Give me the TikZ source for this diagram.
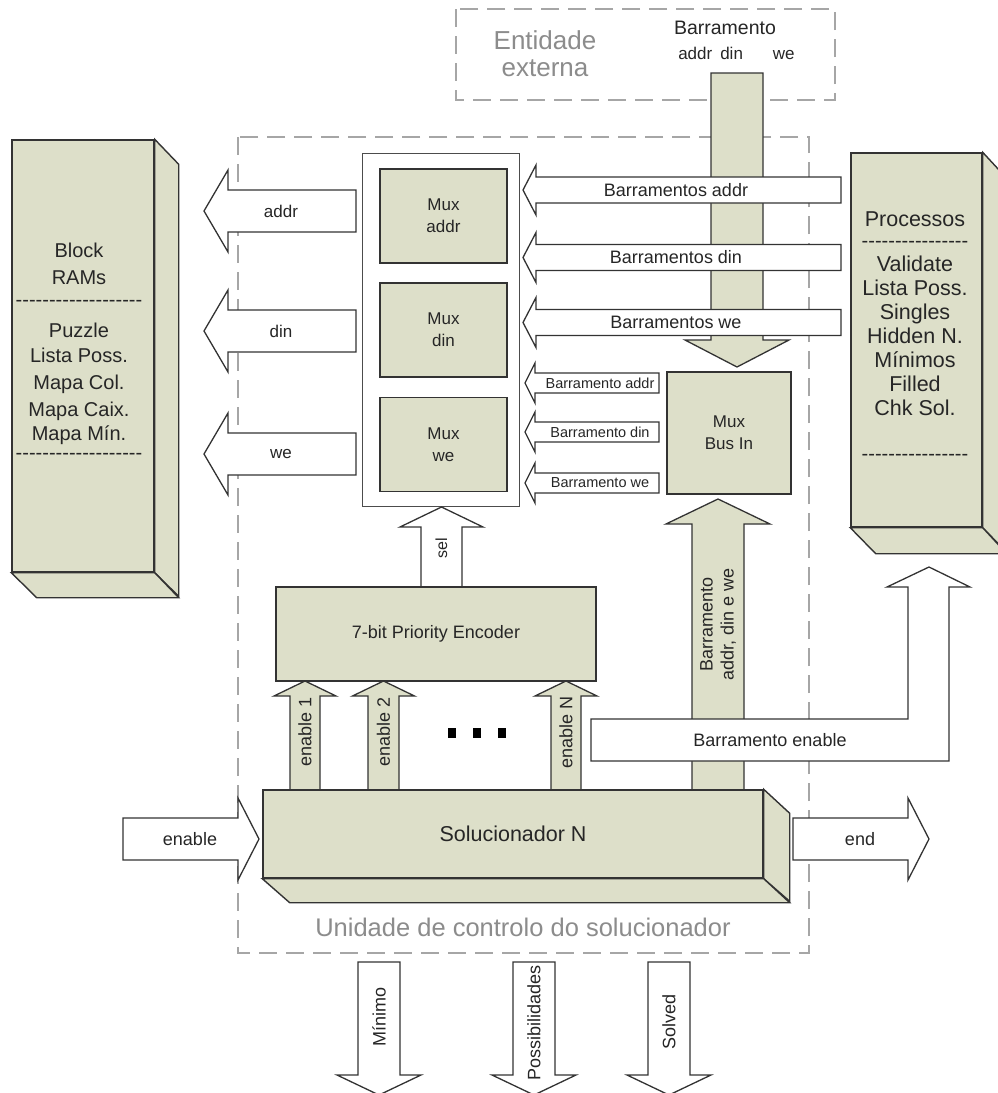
\documentclass[tikz,border=0pt]{standalone}
\usepackage{fontspec}
\setmainfont{Liberation Sans}

\definecolor{solfill}{RGB}{221,223,201}
\definecolor{txtgrey}{RGB}{140,140,140}

% horizontal block arrow: style, tail x, head base x, tip x, y, half shaft, half head
\newcommand{\harr}[7]{%
	\draw[#1] (#2,#5-#6) -- (#3,#5-#6) -- (#3,#5-#7) -- (#4,#5) -- (#3,#5+#7) -- (#3,#5+#6) -- (#2,#5+#6) -- cycle;}
% vertical block arrow: style, tail y, head base y, tip y, x, half shaft, half head
\newcommand{\varr}[7]{%
	\draw[#1] (#5-#6,#2) -- (#5-#6,#3) -- (#5-#7,#3) -- (#5,#4) -- (#5+#7,#3) -- (#5+#6,#3) -- (#5+#6,#2) -- cycle;}
% row of hyphens
\newcommand{\hyph}[1]{\foreach \k in {1,...,#1}{-}}

\begin{document}
\begin{tikzpicture}[x=1pt,y=-1pt,
	face/.style={draw=black!80, line width=1.4pt, fill=solfill},
	hollow/.style={draw=black!80, line width=1.3pt, fill=white},
	filled/.style={draw=black!80, line width=1.3pt, fill=solfill},
	dashframe/.style={draw=black!35, dash pattern=on 18pt off 9pt, line width=1.4pt},
	mux/.style={face, minimum width=127, minimum height=94, align=center, inner sep=0pt},
	txt/.style={text=black!85, inner sep=0pt},
	f14/.style={txt, font=\fontsize{14.5}{17}\selectfont},
	f16/.style={txt, font=\fontsize{16}{19}\selectfont},
	f17/.style={txt, font=\fontsize{17}{22}\selectfont},
	f18/.style={txt, font=\fontsize{18}{21}\selectfont},
	f20/.style={txt, font=\fontsize{20}{24}\selectfont}]

	\useasboundingbox (0,0) rectangle (998,1093);
	\fill[white] (0,0) rectangle (998,1093);

	% dashed frames
	\draw[dashframe] (456,9) rectangle (835,100);
	\draw[dashframe] (238,137) rectangle (809,953);
	\node[text=txtgrey, font=\fontsize{26}{27}\selectfont, align=center] (ext) at (545,54) {Entidade\\externa};
	\node[text=txtgrey, font=\fontsize{25.5}{28}\selectfont] (unit) at (523,927) {Unidade de controlo do solucionador};

	% block RAMs
	\node[face, minimum width=142, minimum height=432] (ram) at (83,356) {};
	\draw[face] (ram.north east) -- ++(24,25) -- ++(0,432) -- (ram.south east) -- cycle;
	\draw[face] (ram.south west) -- (ram.south east) -- ++(24,25) -- ++(-142,0) -- cycle;
	\foreach \t/\yy [count=\i] in {Block/257, RAMs/284, Puzzle/337, Lista Poss./362,
		Mapa Col./389, Mapa Caix./416, Mapa Mín./440}
		\node[f20, anchor=base] (ram-\i) at (79,\yy) {\t};
	\node[f20] (ram-sepa) at (79,303) {\hyph{19}};
	\node[f20] (ram-sepb) at (79,456) {\hyph{19}};

	% processos
	\node[face, minimum width=131, minimum height=374] (proc) at (916.5,340) {};
	\draw[face] (proc.north east) -- ++(24,26) -- ++(0,374) -- (proc.south east) -- cycle;
	\draw[face] (proc.south west) -- (proc.south east) -- ++(24,26) -- ++(-131,0) -- cycle;
	\foreach \t/\yy [count=\i] in {Processos/226, Validate/271, Lista Poss./295, Singles/319,
		Hidden N./343, Mínimos/367, Filled/391, Chk Sol./415}
		\node[txt, font=\fontsize{21.5}{24}\selectfont, anchor=base] (proc-\i) at (915,\yy) {\t};
	\node[f20] (proc-sepa) at (915,244) {\hyph{16}};
	\node[f20] (proc-sepb) at (915,457) {\hyph{16}};

	% bus from the outside
	\node[txt, font=\fontsize{19.5}{22}\selectfont] (extbus) at (725,28) {Barramento};
	\node[txt, font=\fontsize{17}{20}\selectfont] (extsig) at (736.5,53) {addr\hspace{8pt}din\hspace{30pt}we};
	\varr{filled}{73}{340}{367}{737}{26}{52}

	\harr{hollow}{841}{536}{523}{190}{13}{25}
	\harr{hollow}{841}{536}{523}{257.5}{13}{25}
	\harr{hollow}{841}{536}{523}{322.5}{13}{25}
	\node[f18] (busaddr) at (676,190) {Barramentos addr};
	\node[f18] (busdin) at (676,257.5) {Barramentos din};
	\node[f18] (buswe) at (676,322.5) {Barramentos we};

	\harr{hollow}{659}{535}{525}{383}{10}{20}
	\harr{hollow}{659}{535}{525}{432}{10}{20}
	\harr{hollow}{659}{535}{525}{483}{10}{20}
	\node[f14] (inaddr) at (600,383) {Barramento addr};
	\node[f14] (indin) at (600,432) {Barramento din};
	\node[f14] (inwe) at (600,483) {Barramento we};

	% multiplexers
	\node[draw=black!70, line width=1pt, fill=white, minimum width=157, minimum height=353] (muxbank) at (440.5,329.5) {};
	\node[mux, f17] (muxaddr) at (443.5,216) {Mux\\addr};
	\node[mux, f17] (muxdin) at (443.5,330) {Mux\\din};
	\node[mux, f17] (muxwe) at (443.5,444.5) {Mux\\we};
	\node[mux, f17, minimum width=124, minimum height=122] (muxbus) at (729,433) {Mux\\Bus In};

	% outputs to the block RAMs
	\harr{hollow}{356}{228}{204}{211}{21}{41}
	\harr{hollow}{356}{228}{204}{331}{21}{41}
	\harr{hollow}{356}{228}{204}{454}{21}{41}
	\node[f17] (outaddr) at (281,211) {addr};
	\node[f17] (outdin) at (281,331) {din};
	\node[f17] (outwe) at (281,454) {we};

	% priority encoder
	\varr{hollow}{587}{527}{507}{441.5}{20.5}{41.5}
	\node[f16, rotate=90] (sel) at (441.5,548) {sel};
	\node[face, minimum width=320, minimum height=94, txt, font=\fontsize{18}{21}\selectfont] (enc) at (436,634) {7-bit Priority Encoder};

	\varr{filled}{790}{696}{681}{305}{15}{31}
	\varr{filled}{790}{696}{681}{383.5}{15.5}{31}
	\varr{filled}{790}{696}{681}{566}{15}{31}
	\node[f18, rotate=90] (en1) at (305,732) {enable 1};
	\node[f18, rotate=90] (en2) at (383.5,732) {enable 2};
	\node[f18, rotate=90] (enN) at (566,732) {enable N};
	\foreach \dx in {452,477,502}
		\fill (\dx-4,728) rectangle (\dx+4,738);

	% bus from the solvers
	\varr{filled}{790}{524}{499}{718}{26}{52}
	\node[f18, rotate=90, align=center] (solbus) at (718,624) {Barramento\\addr, din e we};

	\draw[hollow] (591,719) -- (908,719) -- (908,587) -- (887,587) -- (929,567) -- (970,587)
		-- (949,587) -- (949,761) -- (591,761) -- cycle;
	\node[f18] (enbus) at (770,740) {Barramento enable};

	% solver
	\node[face, minimum width=500, minimum height=88, txt, font=\fontsize{21.5}{25}\selectfont] (sol) at (513,834) {Solucionador N};
	\draw[face] (sol.north east) -- ++(26,24) -- ++(0,88) -- (sol.south east) -- cycle;
	\draw[face] (sol.south west) -- (sol.south east) -- ++(26,24) -- ++(-500,0) -- cycle;

	\harr{hollow}{123}{238}{259}{839}{21}{41}
	\harr{hollow}{793}{908}{929}{839}{21}{41}
	\node[f18] (enin) at (190,839) {enable};
	\node[f18] (endout) at (860,839) {end};

	% results
	\varr{hollow}{962}{1075}{1095}{379}{21}{42}
	\varr{hollow}{962}{1075}{1095}{534}{21}{42}
	\varr{hollow}{962}{1075}{1095}{669}{21}{42}
	\node[f18, rotate=90] (minimo) at (379,1017) {Mínimo};
	\node[f18, rotate=90] (poss) at (534,1023) {Possibilidades};
	\node[f18, rotate=90] (solved) at (669,1022) {Solved};
\end{tikzpicture}
\end{document}
